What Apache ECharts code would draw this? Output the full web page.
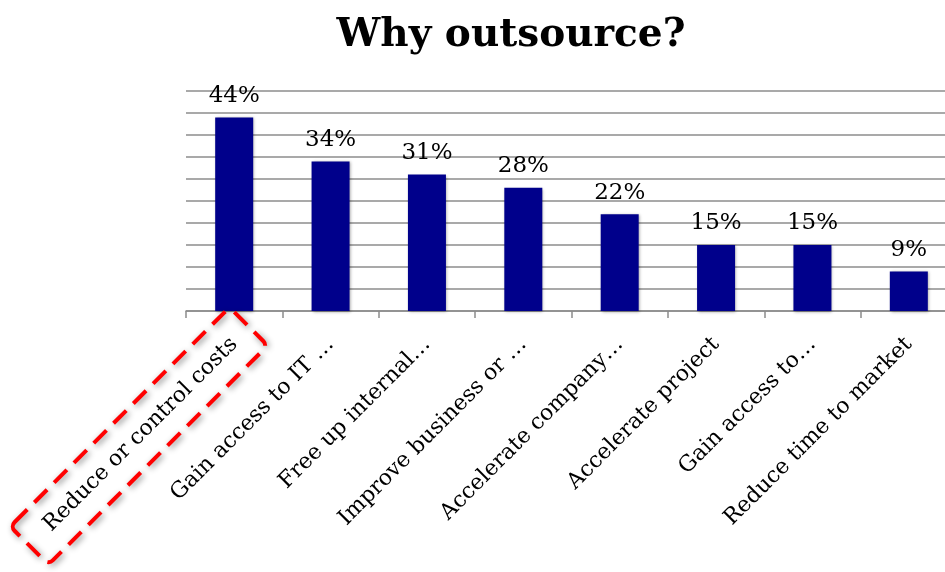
<!DOCTYPE html>
<html>
<head>
<meta charset="utf-8">
<script src="https://cdn.jsdelivr.net/npm/echarts@6/dist/echarts.min.js"></script>
<style>
  html, body { margin: 0; padding: 0; background: #fff; }
  #chart { width: 945px; height: 572px; }
</style>
</head>
<body>
<div id="chart"></div>
<script>
// Reasons given for outsourcing, share of respondents (%)
const categories = [
  'Reduce or control costs',
  'Gain access to IT …',
  'Free up internal…',
  'Improve business or …',
  'Accelerate company…',
  'Accelerate project',
  'Gain access to…',
  'Reduce time to market'
];
const shares = [44, 34, 31, 28, 22, 15, 15, 9];

const serif = 'DejaVu Serif';
const chart = echarts.init(document.getElementById('chart'));

chart.setOption({
  animation: false,
  backgroundColor: '#ffffff',
  title: {
    text: 'Why outsource?',
    left: 506,
    top: 11,
    textAlign: 'center',
    textStyle: { fontFamily: serif, fontWeight: 'bold', fontSize: 39, color: '#000' }
  },
  grid: {
    left: 186, right: -12, top: 91, bottom: 261,
    containLabel: false,
    outerBoundsMode: 'none'
  },
  xAxis: {
    type: 'category',
    data: categories,
    axisLine: { lineStyle: { color: '#8c8c8c', width: 1.5 } },
    axisTick: { show: true, length: 7, lineStyle: { color: '#8c8c8c', width: 1.5 } },
    axisLabel: {
      interval: 0,
      rotate: 45,
      margin: 30,
      fontFamily: serif,
      fontSize: 22,
      color: '#000'
    }
  },
  yAxis: {
    type: 'value',
    min: 0,
    max: 50,
    interval: 5,
    axisLine: { show: false },
    axisTick: { show: false },
    axisLabel: { show: false },
    splitLine: { lineStyle: { color: '#8c8c8c', width: 1.5 } }
  },
  series: [{
    type: 'bar',
    data: shares,
    barWidth: 38,
    itemStyle: {
      color: '#00008b',
      shadowColor: 'rgba(0,0,0,0.35)',
      shadowBlur: 3,
      shadowOffsetX: 1,
      shadowOffsetY: 1
    },
    label: {
      show: true,
      position: 'top',
      distance: 10,
      formatter: '{c}%',
      fontFamily: serif,
      fontSize: 23,
      color: '#000'
    }
  }],
  graphic: [{
    type: 'rect',
    x: 139,
    y: 436,
    rotation: Math.PI / 4,
    shape: { x: -155, y: -27, width: 310, height: 54, r: 6 },
    style: {
      fill: 'none',
      stroke: '#ff0000',
      lineWidth: 4,
      lineDash: [18, 10],
      shadowColor: 'rgba(0,0,0,0.45)',
      shadowBlur: 6,
      shadowOffsetX: 2,
      shadowOffsetY: 2
    },
    z: 100
  }]
});
</script>
</body>
</html>
